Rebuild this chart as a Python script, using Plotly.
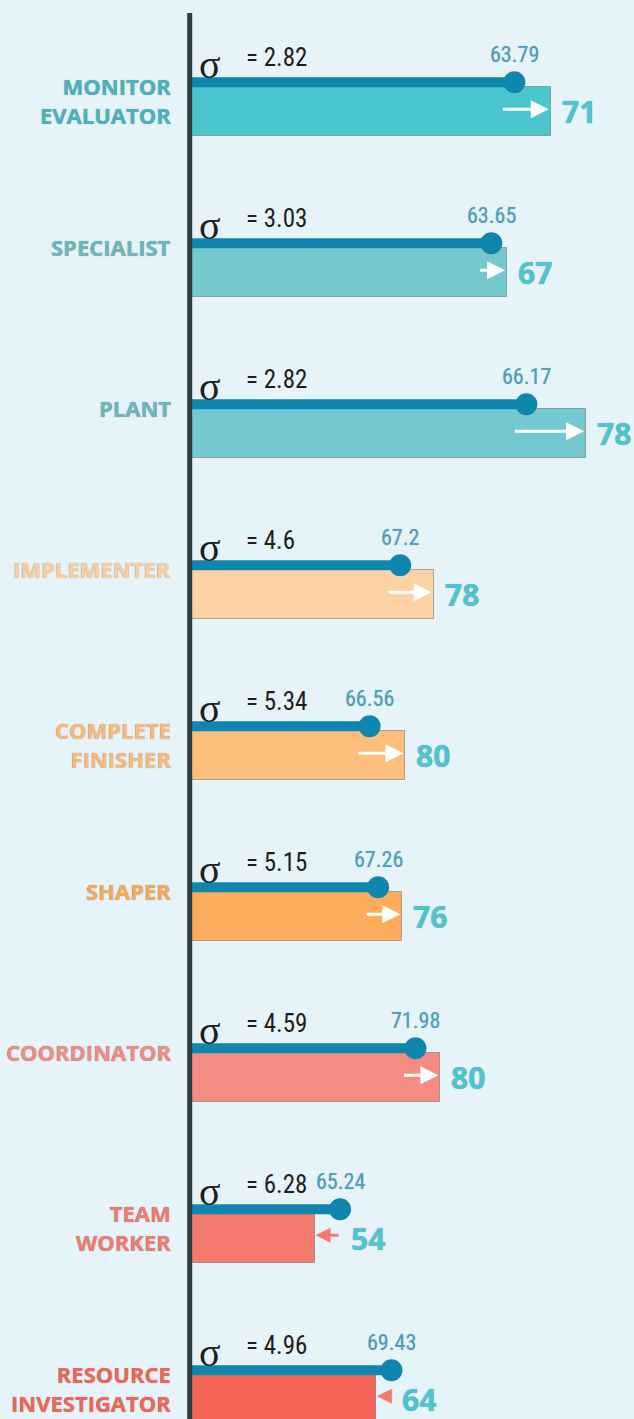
import plotly.graph_objects as go

# ---------------- data ----------------
roles = ["MONITOR<br>EVALUATOR", "SPECIALIST", "PLANT", "IMPLEMENTER",
         "COMPLETE<br>FINISHER", "SHAPER", "COORDINATOR", "TEAM<br>WORKER",
         "RESOURCE<br>INVESTIGATOR"]
sigma = [2.82, 3.03, 2.82, 4.6, 5.34, 5.15, 4.59, 6.28, 4.96]
mean_values = [63.79, 63.65, 66.17, 67.2, 66.56, 67.26, 71.98, 65.24, 69.43]
score_values = [71, 67, 78, 78, 80, 76, 80, 54, 64]

# ---------------- styles ----------------
bar_colors = ["#4bc6cf", "#74c8ce", "#74c8cf", "#fdd3a6", "#fdbe7c",
              "#fbad5c", "#f58c84", "#f47a70", "#f46558"]
label_colors = ["#4ab2bb", "#6bb6bc", "#6bb6bc", "#f9cfa1", "#f8b97a",
                "#f7a85a", "#ef8b82", "#ee7b70", "#ee6658"]
BG = "#e6f3f9"
LINE_C = "#0e86ae"
VAL_C = "#4cc5d0"
MEAN_C = "#4a9fbd"
W, H = 634, 1419
LEFT = 192
PX_X = 14.25          # pixels per unit of value/sigma
PX_Y = 161.0          # pixels per row
FIRST = 111.3         # pixel y of first bar centre
BAR_H = 49.0
LINE_W = 10.0

narrow = "Liberation Sans Narrow, Roboto Condensed, Arial Narrow, Liberation Sans"
bold = "Open Sans"
shadow = "0px 0px 1px #8a8a8a"
light_shadow = "0px 0px 1px rgba(130,130,130,0.55)"

rows = list(range(len(roles)))
bar_x = [v / s for v, s in zip(score_values, sigma)]
mean_x = [v / s for v, s in zip(mean_values, sigma)]
line_off = (BAR_H / 2 + LINE_W / 2 - 0.5) / PX_Y
line_y = [r - line_off for r in rows]

fig = go.Figure()

fig.add_trace(go.Bar(
    x=bar_x, y=rows, orientation="h", width=BAR_H / PX_Y,
    marker=dict(color=bar_colors, line=dict(color="rgba(110,110,110,0.55)", width=1)),
    hoverinfo="skip", showlegend=False))

for i in rows:
    fig.add_trace(go.Scatter(
        x=[0, mean_x[i]], y=[line_y[i], line_y[i]], mode="lines",
        line=dict(color=LINE_C, width=LINE_W), hoverinfo="skip", showlegend=False))
fig.add_trace(go.Scatter(
    x=mean_x, y=line_y, mode="markers",
    marker=dict(color=LINE_C, size=22), hoverinfo="skip", showlegend=False, cliponaxis=False))

ann = []
for i in rows:
    # mean label above the dot
    ann.append(dict(x=mean_x[i], y=line_y[i], xref="x", yref="y", text=f"{mean_values[i]}",
                    showarrow=False, xanchor="center", yanchor="middle", yshift=28,
                    font=dict(family=narrow, size=22, color=MEAN_C, shadow=light_shadow)))
    # sigma symbol
    ann.append(dict(x=0, y=line_y[i], xref="x", yref="y", text="σ", showarrow=False,
                    xanchor="center", yanchor="middle", xshift=18, yshift=18,
                    font=dict(family="Liberation Serif", size=40, color="#1e1e1e")))
    ann.append(dict(x=0, y=line_y[i], xref="x", yref="y", text=f"= {sigma[i]}", showarrow=False,
                    xanchor="left", yanchor="middle", xshift=52, yshift=25,
                    font=dict(family=narrow, size=25, color="#1e1e1e")))
    # score label
    ann.append(dict(x=max(bar_x[i], mean_x[i]), y=rows[i], xref="x", yref="y",
                    text=f"<b>{score_values[i]}</b>", showarrow=False,
                    xanchor="left", yanchor="middle", xshift=9, yshift=0,
                    font=dict(family=bold, size=30, color=VAL_C, shadow=shadow)))
    # arrows
    if score_values[i] >= mean_values[i]:
        ann.append(dict(x=bar_x[i], y=rows[i], xref="x", yref="y", text="",
                        showarrow=True, axref="pixel", ayref="pixel",
                        ax=-((bar_x[i] - mean_x[i]) * PX_X + 13), ay=0, yshift=2,
                        arrowhead=2, arrowsize=1.2, arrowwidth=3, arrowcolor="white",
                        standoff=2))
    else:
        ann.append(dict(x=bar_x[i], y=rows[i], xref="x", yref="y", text="",
                        showarrow=True, axref="pixel", ayref="pixel",
                        ax=(mean_x[i] - bar_x[i]) * PX_X, ay=0, yshift=3,
                        arrowhead=2, arrowsize=1.0, arrowwidth=3, arrowcolor="#f27a70",
                        standoff=1))
    # category label
    ann.append(dict(x=0, y=line_y[i], xref="paper", yref="y", text=f"<b>{roles[i]}</b>",
                    showarrow=False, xanchor="right", yanchor="top", align="right",
                    xshift=-19, yshift=13,
                    font=dict(family=bold, size=22, color=label_colors[i], shadow=shadow)))

fig.update_layout(
    width=W, height=H, margin=dict(l=LEFT, r=0, t=0, b=0),
    paper_bgcolor=BG, plot_bgcolor=BG, annotations=ann, bargap=0,
    xaxis=dict(range=[0, (W - LEFT) / PX_X], visible=False, fixedrange=True),
    yaxis=dict(range=[(H - FIRST) / PX_Y, -FIRST / PX_Y], visible=False, fixedrange=True),
    shapes=[dict(type="line", xref="paper", yref="paper", x0=-2.3 / (W - LEFT),
                 x1=-2.3 / (W - LEFT), y0=0, y1=1 - 13 / H,
                 line=dict(color="#2f3b3e", width=5), layer="above")],
)

fig.write_html(
    "out.html",
    config={"displayModeBar": False},
    post_script=("document.body.style.margin='0';document.body.style.padding='0';"
                 "document.body.style.overflow='hidden';"
                 f"document.body.style.background='{BG}';"),
)
